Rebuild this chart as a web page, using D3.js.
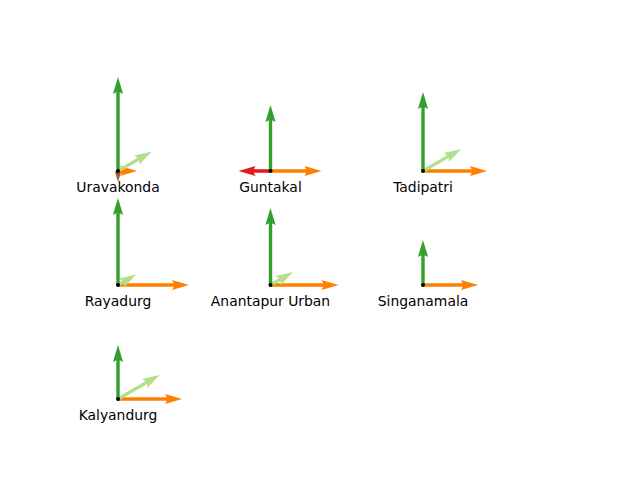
<!DOCTYPE html>
<html>
<head>
<meta charset="utf-8">
<script src="https://cdn.jsdelivr.net/npm/d3@7"></script>
<style>
  html, body { margin: 0; padding: 0; background: #ffffff; }
  svg { display: block; }
</style>
</head>
<body>
<svg id="chart" width="640" height="480"></svg>
<script>
// ---- data ----
const constituencies = ["Uravakonda", "Guntakal", "Tadipatri", "Rayadurg", "Anantapur Urban", "Singanamala", "Kalyandurg"];
const colIndex = [0, 1, 2, 0, 1, 2, 0];
const rowIndex = [0, 0, 0, 1, 1, 1, 2];

// arrow magnitudes per series (0 = no arrow)
const upValues    = [94, 66, 79, 87, 77, 45, 54];   // dark green, pointing up
const diagValues  = [39, 0, 44, 21, 26, 0, 48];     // light green, 30 degrees
const rightValues = [19, 51, 64, 71, 68, 55, 64];   // orange, pointing right
const leftValues  = [0, 32, 0, 0, 0, 0, 0];         // red, pointing left
const downValues  = [11, 0, 0, 0, 0, 0, 0];         // brown, pointing down

const seriesNames  = ["left", "right", "down", "diag", "up"];
const seriesAngles = [180, 0, 270, 30, 90];
const seriesColors = ["#e31a1c", "#ff7f00", "#b15928", "#b2df8a", "#33a02c"];
const seriesValues = [leftValues, rightValues, downValues, diagValues, upValues];

// ---- scales ----
const svg = d3.select("#chart");
const x = d3.scaleLinear().domain([0, 2]).range([118, 423]);
const y = d3.scaleLinear().domain([0, 2]).range([171, 399]);
const len = d3.scaleLinear().domain([0, 100]).range([0, 100]);

// matplotlib quiver style arrow (width w, headwidth 3, headlength 5, headaxislength 4.5)
function arrowPath(L) {
  const w = 3.4, hl = 5 * w, hal = 4.5 * w, hw = 1.5 * w;
  let s = 1, Lu = L;
  if (L < hl) { s = L / hl; Lu = hl; }
  const pts = [
    [0, -w / 2], [Lu - hal, -w / 2], [Lu - hl, -hw], [Lu, 0],
    [Lu - hl, hw], [Lu - hal, w / 2], [0, w / 2]
  ].map(p => [p[0] * s, p[1] * s]);
  return "M" + pts.map(p => p.join(",")).join("L") + "Z";
}

const arrows = [];
seriesValues.forEach((vals, si) => {
  vals.forEach((v, i) => {
    if (v > 0) arrows.push({ i, v, angle: seriesAngles[si], color: seriesColors[si], name: seriesNames[si] });
  });
});

svg.append("g").selectAll("path")
  .data(arrows)
  .join("path")
  .attr("d", d => arrowPath(len(d.v)))
  .attr("fill", d => d.color)
  .attr("transform", d => `translate(${x(colIndex[d.i])},${y(rowIndex[d.i])}) rotate(${-d.angle})`);

svg.append("g").selectAll("circle")
  .data(constituencies)
  .join("circle")
  .attr("cx", (d, i) => x(colIndex[i]))
  .attr("cy", (d, i) => y(rowIndex[i]))
  .attr("r", 2)
  .attr("fill", "#000");

svg.append("g").selectAll("text")
  .data(constituencies)
  .join("text")
  .attr("x", (d, i) => x(colIndex[i]))
  .attr("y", (d, i) => y(rowIndex[i]) + 21)
  .attr("text-anchor", "middle")
  .attr("font-family", "DejaVu Sans, sans-serif")
  .attr("font-size", "13.9px")
  .attr("fill", "#000")
  .text(d => d);
</script>
</body>
</html>
